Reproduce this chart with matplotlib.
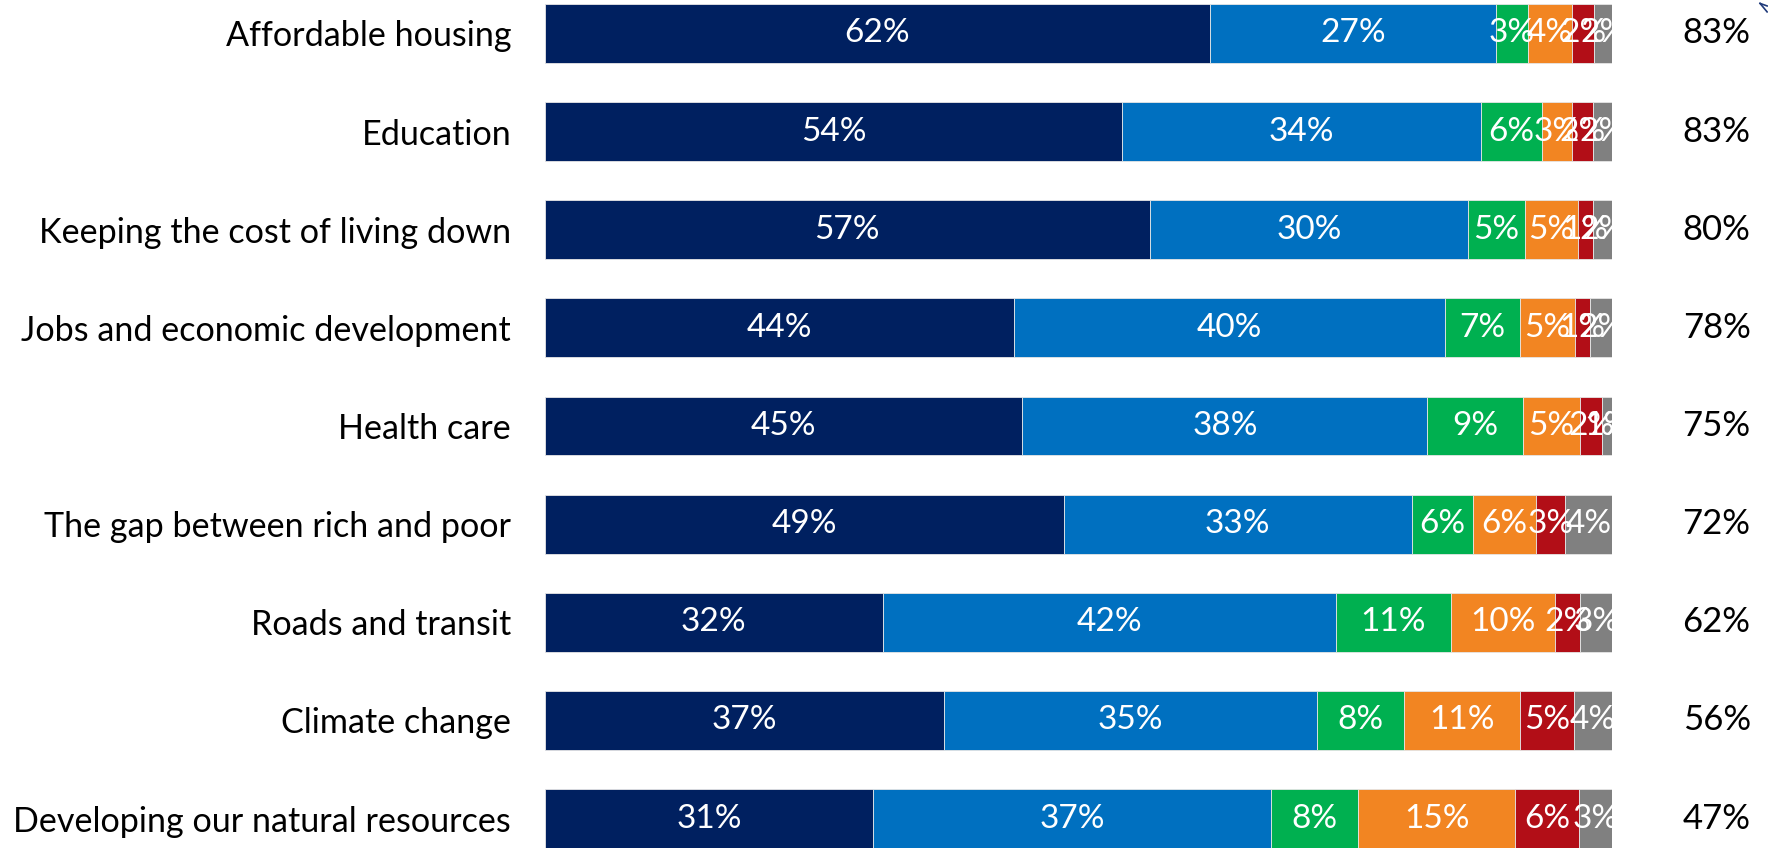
import numpy as np
import matplotlib
matplotlib.use("Agg")
import matplotlib.pyplot as plt

plt.rcParams['font.family'] = ['Lato', 'DejaVu Sans']

# issues, top to bottom
issues = [
    "Affordable housing",
    "Education",
    "Keeping the cost of living down",
    "Jobs and economic development",
    "Health care",
    "The gap between rich and poor",
    "Roads and transit",
    "Climate change",
    "Developing our natural resources",
]

# response shares (%) per segment, left to right (unrounded)
very_high = [62.3, 54.1, 56.7, 44.0, 44.7, 48.6, 31.7, 37.4, 30.8]
high = [26.8, 33.6, 29.8, 40.3, 37.9, 32.6, 42.4, 34.9, 37.2]
medium = [3.0, 5.7, 5.3, 7.0, 8.9, 5.7, 10.8, 8.2, 8.2]
low = [4.1, 2.8, 5.0, 5.2, 5.4, 5.9, 9.7, 10.8, 14.7]
very_low = [2.1, 2.0, 1.4, 1.4, 2.0, 2.8, 2.4, 5.1, 6.0]
dont_know = [1.7, 1.8, 1.8, 2.1, 1.0, 4.4, 3.0, 3.6, 3.1]

# right-hand column
top_score = [83, 83, 80, 78, 75, 72, 62, 56, 47]

series = [very_high, high, medium, low, very_low, dont_know]
colors = ['#002060', '#0070C0', '#00B050', '#F28522', '#B20E17', '#808080']

fig = plt.figure(figsize=(17.68, 8.5), dpi=100)
ax = fig.add_axes([0.308, 0.0024, 0.604, 0.9929])

vals = np.array(series, dtype=float)
widths = vals / vals.sum(axis=0) * 100
y = np.arange(len(issues))

left = np.zeros(len(issues))
for k in range(len(series)):
    ax.barh(y, widths[k], left=left, height=0.6, color=colors[k],
            edgecolor='#e6e6e6', linewidth=0.6)
    for i in range(len(issues)):
        ax.text(left[i] + widths[k][i] / 2, y[i], f"{vals[k][i]:.0f}%",
                ha='center', va='center', color='white', fontsize=24,
                clip_on=True)
    left += widths[k]

ax.set_xlim(0, 100)
ax.set_ylim(8.3, -0.3)
ax.set_yticks(y)
ax.set_yticklabels(issues, fontsize=24.6)
ax.tick_params(axis='y', length=0, pad=24)
ax.set_xticks([])
for s in ax.spines.values():
    s.set_visible(False)

for i, v in enumerate(top_score):
    ax.annotate(f"{v}%", xy=(1.0, y[i]), xycoords=('axes fraction', 'data'),
                xytext=(75, 0), textcoords='offset points',
                ha='center', va='center', fontsize=25, color='black')

# fragment of a callout arrow peeking in at the top-right corner
fig.add_artist(plt.Line2D([0.9955, 0.9995], [0.996, 0.986],
                          color='#1f3a7a', lw=1.2))
fig.add_artist(plt.Line2D([0.9955, 0.9995], [0.996, 0.993],
                          color='#1f3a7a', lw=1.2))

fig.savefig('out.png', dpi=100)
